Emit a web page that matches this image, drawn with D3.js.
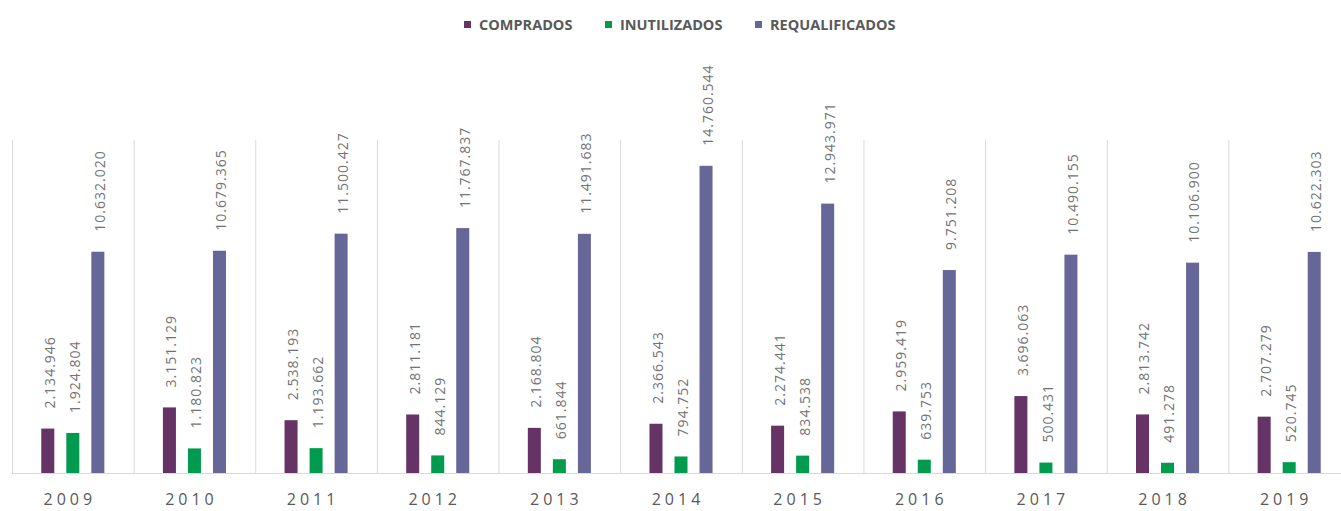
<!DOCTYPE html>
<html>
<head>
<meta charset="utf-8">
<script src="https://cdn.jsdelivr.net/npm/d3@7"></script>
<style>
  body { margin: 0; background: #fff; }
  svg { display: block; font-family: "Open Sans", sans-serif; }
</style>
</head>
<body>
<svg id="chart" width="1341" height="511"></svg>
<script>
const years = ['2009', '2010', '2011', '2012', '2013', '2014', '2015', '2016', '2017', '2018', '2019'];
const seriesNames = ['COMPRADOS', 'INUTILIZADOS', 'REQUALIFICADOS'];
const colors = ['#653366', '#009b4e', '#666699'];

const comprados = [2134946, 3151129, 2538193, 2811181, 2168804, 2366543, 2274441, 2959419, 3696063, 2813742, 2707279];
const inutilizados = [1924804, 1180823, 1193662, 844129, 661844, 794752, 834538, 639753, 500431, 491278, 520745];
const requalificados = [10632020, 10679365, 11500427, 11767837, 11491683, 14760544, 12943971, 9751208, 10490155, 10106900, 10622303];

const values = [comprados, inutilizados, requalificados];

const svg = d3.select('#chart');

// Scales
const x0 = d3.scaleBand().domain(years).range([12, 1350]);
const x1 = d3.scaleBand()
  .domain(seriesNames)
  .range([0, x0.bandwidth()])
  .paddingInner(0.48)
  .paddingOuter(1.17);
const y = d3.scaleLinear().domain([0, 16000000]).range([473, 140]);

const fmt = d3.formatLocale({ decimal: ',', thousands: '.', grouping: [3], currency: ['', ''] }).format(',d');

// Vertical separators between categories
svg.append('g')
  .selectAll('line')
  .data(years)
  .join('line')
  .attr('x1', d => x0(d) + 0.5)
  .attr('x2', d => x0(d) + 0.5)
  .attr('y1', y.range()[1])
  .attr('y2', y(0))
  .attr('stroke', '#d9d9d9')
  .attr('stroke-width', 1);

// Baseline
svg.append('line')
  .attr('x1', x0.range()[0])
  .attr('x2', x0.range()[1])
  .attr('y1', y(0) + 0.5)
  .attr('y2', y(0) + 0.5)
  .attr('stroke', '#d9d9d9')
  .attr('stroke-width', 1);

// Flatten to one record per bar
const bars = [];
seriesNames.forEach((s, i) => {
  years.forEach((yr, j) => {
    bars.push({ series: s, idx: i, year: yr, value: values[i][j] });
  });
});

// Bars
svg.append('g')
  .selectAll('rect')
  .data(bars)
  .join('rect')
  .attr('x', d => x0(d.year) + x1(d.series))
  .attr('y', d => y(d.value))
  .attr('width', x1.bandwidth())
  .attr('height', d => y(0) - y(d.value))
  .attr('fill', d => colors[d.idx]);

// Value labels, rotated
svg.append('g')
  .selectAll('text')
  .data(bars)
  .join('text')
  .attr('transform', d => {
    const cx = x0(d.year) + x1(d.series) + x1.bandwidth() / 2 + 2;
    return `translate(${cx},${y(d.value) - 20}) rotate(-90)`;
  })
  .attr('dy', '0.35em')
  .attr('text-anchor', 'start')
  .attr('font-size', 14)
  .attr('letter-spacing', 1)
  .attr('fill', '#737373')
  .text(d => fmt(d.value));

// X axis labels
svg.append('g')
  .selectAll('text')
  .data(years)
  .join('text')
  .attr('x', d => x0(d) + x0.bandwidth() / 2 - 3)
  .attr('y', 505)
  .attr('text-anchor', 'middle')
  .attr('font-size', 16)
  .attr('letter-spacing', 4)
  .attr('fill', '#595959')
  .text(d => d);

// Legend
const legendX = [464, 605, 755];
const legend = svg.append('g')
  .selectAll('g')
  .data(seriesNames)
  .join('g')
  .attr('transform', (d, i) => `translate(${legendX[i]},21)`);

legend.append('rect')
  .attr('width', 7)
  .attr('height', 7)
  .attr('fill', (d, i) => colors[i]);

legend.append('text')
  .attr('x', 15)
  .attr('y', 8.5)
  .attr('font-size', 14.5)
  .attr('font-weight', 'bold')
  .attr('fill', '#595959')
  .text(d => d);
</script>
</body>
</html>
